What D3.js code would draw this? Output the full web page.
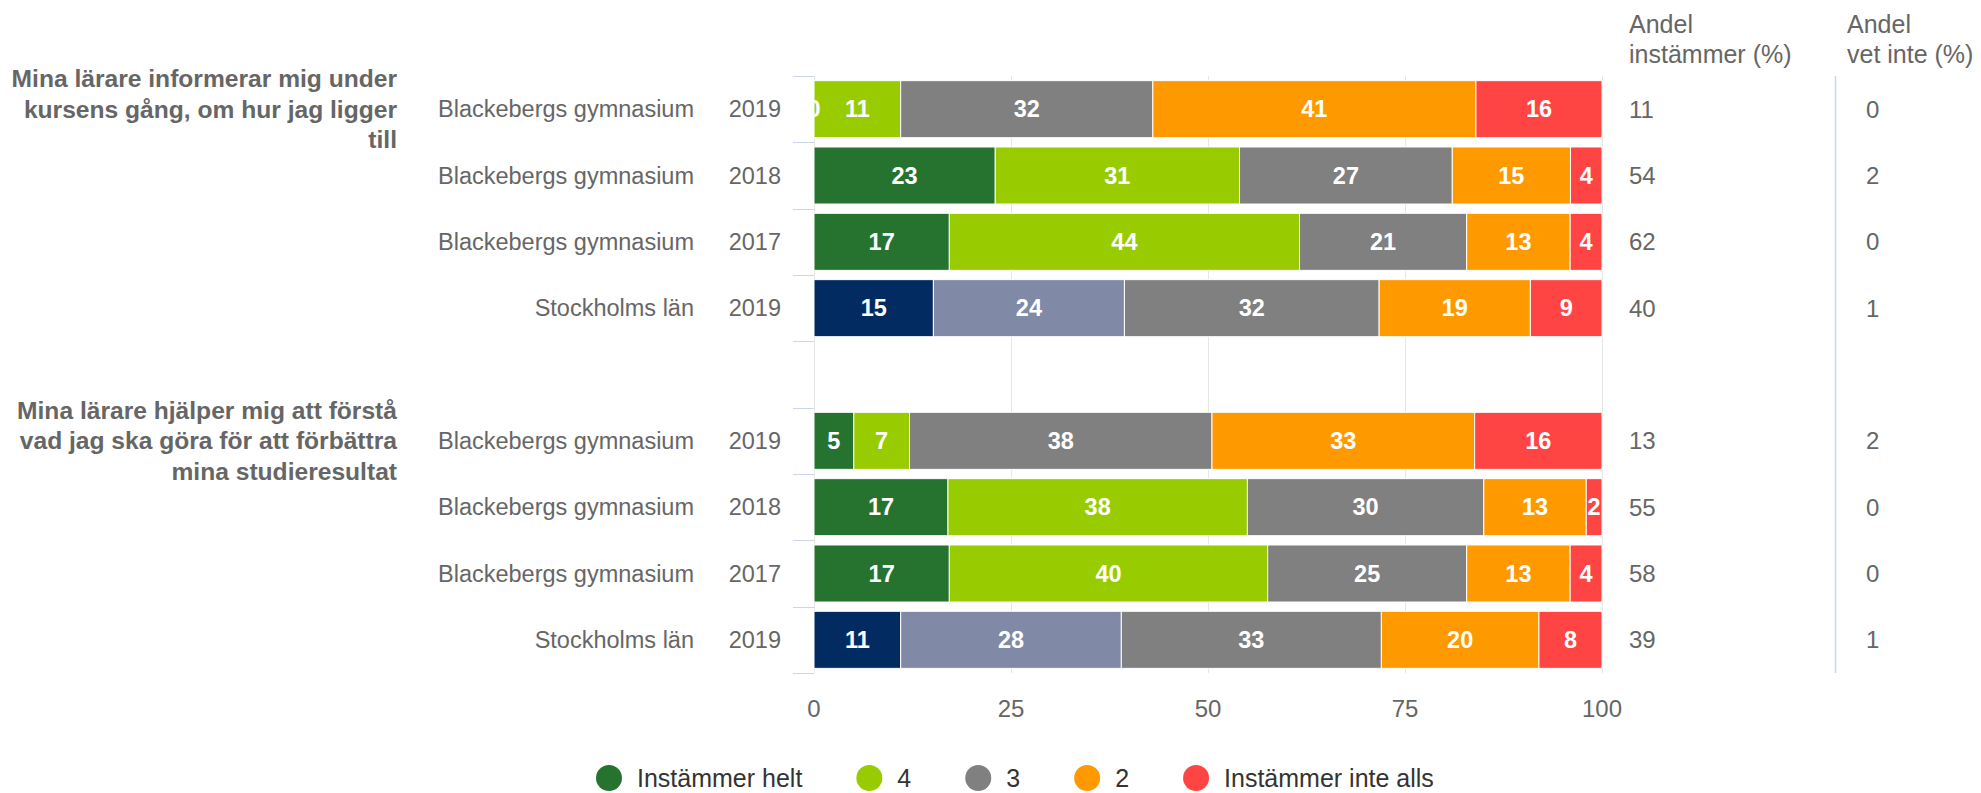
<!DOCTYPE html>
<html lang="sv">
<head>
<meta charset="utf-8">
<script src="https://cdn.jsdelivr.net/npm/d3@7"></script>
<style>
    body { margin: 0; background: #fff; }
    svg { display: block; font-family: "Liberation Sans", Arial, Helvetica, sans-serif; }
</style>
</head>
<body>
<div class="diagram"></div>
<script>
// rader i diagrammet, index 4 är den tomma raden mellan frågorna
const skolor = ["Blackebergs gymnasium", "Blackebergs gymnasium", "Blackebergs gymnasium", "Stockholms län", "",
    "Blackebergs gymnasium", "Blackebergs gymnasium", "Blackebergs gymnasium", "Stockholms län"];
const ar = ["2019", "2018", "2017", "2019", "", "2019", "2018", "2017", "2019"];

const instammerHelt = [0, 23, 17, 15, null, 5, 17, 17, 11];
const varde4 = [11, 31, 44, 24, null, 7, 38, 40, 28];
const varde3 = [32, 27, 21, 32, null, 38, 30, 25, 33];
const varde2 = [41, 15, 13, 19, null, 33, 13, 13, 20];
const instammerInteAlls = [16, 4, 4, 9, null, 16, 2, 4, 8];

const andelInstammer = [11, 54, 62, 40, null, 13, 55, 58, 39];
const andelVetInte = [0, 2, 0, 1, null, 2, 0, 0, 1];

const fragor = [
    ["Mina lärare informerar mig under", "kursens gång, om hur jag ligger", "till"],
    ["Mina lärare hjälper mig att förstå", "vad jag ska göra för att förbättra", "mina studieresultat"]
];
const fragaStart = [0, 5];

const serier = ["Instämmer helt", "4", "3", "2", "Instämmer inte alls"];
const xTicks = [0, 25, 50, 75, 100];
const kolumnRubriker = [["Andel", "instämmer (%)"], ["Andel", "vet inte (%)"]];

const farger = ["#267330", "#99cc00", "#808080", "#ff9900", "#ff4444"];
const lanFarger = ["#012b61", "#808aa6"]; // Stockholms län har egna färger för de två första

const width = 1981;
const height = 793;
const plot = { left: 814, right: 1602, top: 76, bottom: 673 };

const seriesValues = [instammerHelt, varde4, varde3, varde2, instammerInteAlls];
const rows = skolor.map((s, i) => ({ id: i, skola: s, ar: ar[i] }));
const hasData = i => instammerHelt[i] !== null;

const svg = d3.select(".diagram")
    .append("svg")
    .attr("width", width)
    .attr("height", height);

const x = d3.scaleLinear()
    .domain([0, 100])
    .range([plot.left, plot.right]);

const y = d3.scaleBand()
    .domain(rows.map(d => d.id))
    .range([plot.top, plot.bottom])
    .paddingInner(0.14)
    .paddingOuter(0.07);

const halfGap = (y.step() - y.bandwidth()) / 2;

svg.append("defs").append("clipPath")
    .attr("id", "plotClip")
    .append("rect")
    .attr("x", plot.left)
    .attr("y", plot.top)
    .attr("width", plot.right - plot.left)
    .attr("height", plot.bottom - plot.top);

// rutnät
svg.append("g")
    .selectAll("line")
    .data(xTicks)
    .enter().append("line")
    .attr("x1", d => Math.round(x(d)) + 0.5)
    .attr("x2", d => Math.round(x(d)) + 0.5)
    .attr("y1", plot.top)
    .attr("y2", plot.bottom)
    .attr("stroke", "#e6e6e6")
    .attr("stroke-width", 1);

// tickmarkeringar på kategoriaxeln
const gränser = rows.map(d => y(d.id) - halfGap).concat([plot.bottom]);
svg.append("g")
    .selectAll("line")
    .data(gränser)
    .enter().append("line")
    .attr("x1", plot.left - 21)
    .attr("x2", plot.left)
    .attr("y1", d => Math.round(d) + 0.5)
    .attr("y2", d => Math.round(d) + 0.5)
    .attr("stroke", "#ccd6eb")
    .attr("stroke-width", 1);

// staplar
const stack = d3.stack()
    .keys(d3.range(serier.length))
    .value((d, k) => seriesValues[k][d.id] || 0)
    .offset(d3.stackOffsetExpand);

const layers = stack(rows);

const colorFor = (k, row) => {
    if (row.skola === "Stockholms län" && k < 2) return lanFarger[k];
    return farger[k];
};

const barGroup = svg.append("g");
layers.forEach(layer => {
    barGroup.append("g")
        .selectAll("rect")
        .data(layer.filter(d => hasData(d.data.id)))
        .enter().append("rect")
        .attr("x", d => x(d[0] * 100))
        .attr("y", d => y(d.data.id))
        .attr("width", d => Math.max(0, x(d[1] * 100) - x(d[0] * 100)))
        .attr("height", y.bandwidth())
        .attr("fill", d => colorFor(layer.key, d.data))
        .attr("stroke", "#ffffff")
        .attr("stroke-width", 1);
});

// värden i staplarna
const labelGroup = svg.append("g").attr("clip-path", "url(#plotClip)");
layers.forEach(layer => {
    labelGroup.append("g")
        .selectAll("text")
        .data(layer.filter(d => hasData(d.data.id)))
        .enter().append("text")
        .attr("x", d => (x(d[0] * 100) + x(d[1] * 100)) / 2)
        .attr("y", d => y(d.data.id) + y.bandwidth() / 2)
        .attr("dy", "0.35em")
        .attr("text-anchor", "middle")
        .style("font-size", "23.5px")
        .style("font-weight", "bold")
        .style("fill", "#ffffff")
        .text(d => seriesValues[layer.key][d.data.id]);
});

// x-axel
svg.append("g")
    .selectAll("text")
    .data(xTicks)
    .enter().append("text")
    .attr("x", d => x(d))
    .attr("y", 709)
    .attr("dy", "0.35em")
    .attr("text-anchor", "middle")
    .style("font-size", "24px")
    .style("fill", "#666666")
    .text(d => d);

// kategorietiketter: skola och år
const catGroup = svg.append("g");
catGroup.selectAll(".skola")
    .data(rows.filter(d => hasData(d.id)))
    .enter().append("text")
    .attr("class", "skola")
    .attr("x", 694)
    .attr("y", d => y(d.id) + y.bandwidth() / 2)
    .attr("dy", "0.35em")
    .attr("text-anchor", "end")
    .style("font-size", "23.5px")
    .style("fill", "#666666")
    .text(d => d.skola);

catGroup.selectAll(".ar")
    .data(rows.filter(d => hasData(d.id)))
    .enter().append("text")
    .attr("class", "ar")
    .attr("x", 781)
    .attr("y", d => y(d.id) + y.bandwidth() / 2)
    .attr("dy", "0.35em")
    .attr("text-anchor", "end")
    .style("font-size", "23.5px")
    .style("fill", "#666666")
    .text(d => d.ar);

// frågetexter
const lineHeight = 30.5;
fragor.forEach((lines, i) => {
    const cy = y(fragaStart[i]) + y.bandwidth() / 2;
    const top = cy - (lines.length - 1) * lineHeight / 2;
    svg.append("text")
        .attr("text-anchor", "end")
        .style("font-size", "24.6px")
        .style("font-weight", "bold")
        .style("fill", "#666666")
        .selectAll("tspan")
        .data(lines)
        .enter().append("tspan")
        .attr("x", 397)
        .attr("y", (d, j) => top + j * lineHeight)
        .attr("dy", "0.35em")
        .text(d => d);
});

// högra kolumnerna
const kolumnX = [1629, 1847];
const vardeX = [1629, 1866];
const kolumnVarden = [andelInstammer, andelVetInte];

kolumnRubriker.forEach((lines, i) => {
    svg.append("text")
        .style("font-size", "25px")
        .style("fill", "#666666")
        .selectAll("tspan")
        .data(lines)
        .enter().append("tspan")
        .attr("x", kolumnX[i])
        .attr("y", (d, j) => 24 + j * 30)
        .attr("dy", "0.35em")
        .text(d => d);

    svg.append("g")
        .selectAll("text")
        .data(rows.filter(d => hasData(d.id)))
        .enter().append("text")
        .attr("x", vardeX[i])
        .attr("y", d => y(d.id) + y.bandwidth() / 2)
        .attr("dy", "0.35em")
        .style("font-size", "24px")
        .style("fill", "#666666")
        .text(d => kolumnVarden[i][d.id]);
});

svg.append("line")
    .attr("x1", 1835.5)
    .attr("x2", 1835.5)
    .attr("y1", plot.top)
    .attr("y2", plot.bottom)
    .attr("stroke", "#ccd6eb")
    .attr("stroke-width", 1.5);

// legend
const legend = svg.append("g").attr("class", "legend");
let cx = 609;
serier.forEach((name, i) => {
    const item = legend.append("g");
    item.append("circle")
        .attr("cx", cx)
        .attr("cy", 778)
        .attr("r", 13)
        .attr("fill", farger[i]);
    const label = item.append("text")
        .attr("x", cx + 28)
        .attr("y", 778)
        .attr("dy", "0.35em")
        .style("font-size", "25px")
        .style("fill", "#333333")
        .text(name);
    cx += 28 + label.node().getComputedTextLength() + 67;
});
</script>
</body>
</html>
